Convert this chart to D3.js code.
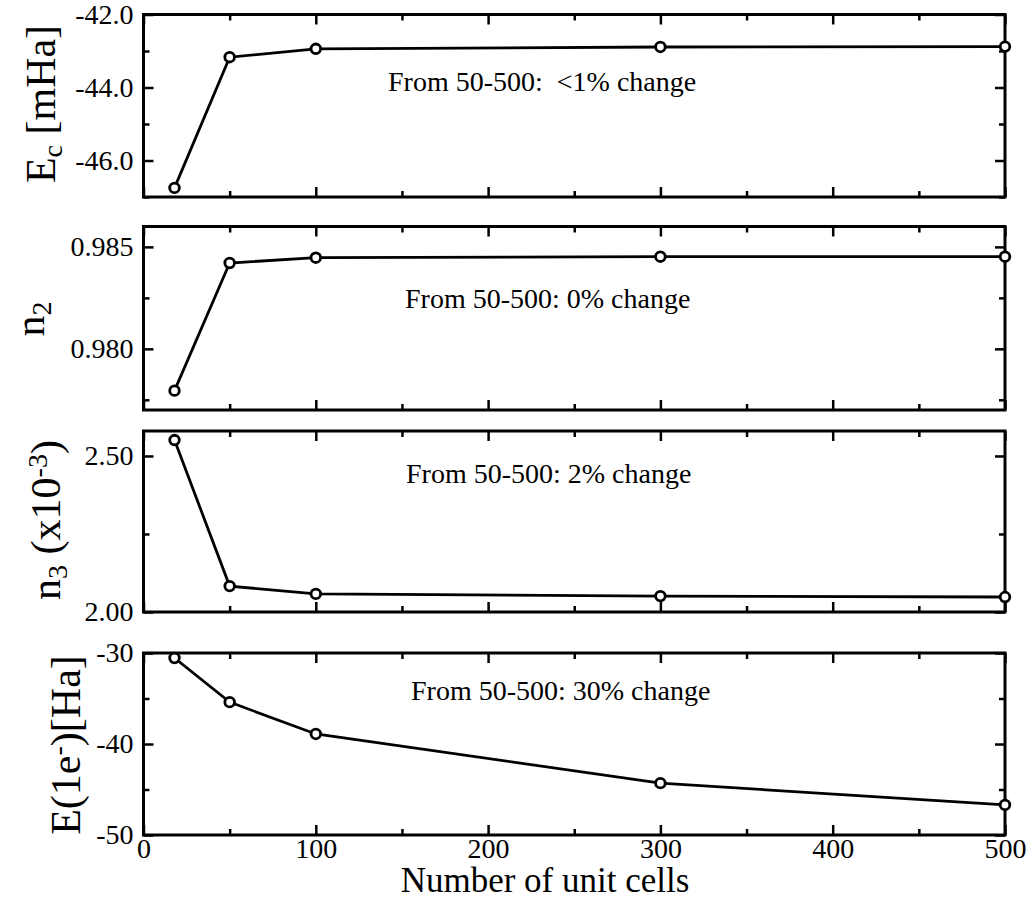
<!DOCTYPE html>
<html>
<head>
<meta charset="utf-8">
<script src="https://cdn.jsdelivr.net/npm/d3@7"></script>
<style>
  html, body { margin: 0; padding: 0; background: #fff; }
  svg { display: block; }
  svg text { font-family: 'Liberation Serif', 'Times New Roman', serif !important; white-space: pre; }
</style>
</head>
<body>
<svg id="chart" width="1033" height="915"></svg>
<script>
// ---- data ----
const unitCells = [18, 50, 100, 300, 500];
const ecValues = [-46.75, -43.17, -42.94, -42.89, -42.88];
const n2Values = [0.97795, 0.98421, 0.98447, 0.98452, 0.98452];
const n3Values = [2.551, 2.083, 2.058, 2.051, 2.048];
const e1Values = [-30.55, -35.4, -38.9, -44.3, -46.7];

const xTicks = [0, 100, 200, 300, 400, 500];
const xMinorTicks = [50, 150, 250, 350, 450];

const ecTicks = [-42, -44, -46];
const ecMinor = [-43, -45, -47];
const n2Ticks = [0.980, 0.985];
const n2Minor = [0.9775, 0.9825];
const n3Ticks = [2.00, 2.50];
const n3Minor = [2.25];
const e1Ticks = [-30, -40, -50];
const e1Minor = [-35, -45];

const annotations = [
  "From 50-500:  <1% change",
  "From 50-500: 0% change",
  "From 50-500: 2% change",
  "From 50-500: 30% change"
];

// ---- layout ----
const FONT = "'Liberation Serif', 'Times New Roman', serif";
const svg = d3.select("#chart");
const left = 143.5, right = 1005;
const x = d3.scaleLinear().domain([0, 500]).range([left, right]);

const hy = f => (v => f(v).replace("\u2212", "-"));

const panels = [
  { values: ecValues, top: 14.5, bottom: 197, domain: [-47, -42], ticks: ecTicks, minor: ecMinor, fmt: hy(d3.format(".1f")),
    note: annotations[0], noteX: 388, noteY: 91 },
  { values: n2Values, top: 226.5, bottom: 410, domain: [0.977, 0.986], ticks: n2Ticks, minor: n2Minor, fmt: hy(d3.format(".3f")),
    note: annotations[1], noteX: 405, noteY: 308 },
  { values: n3Values, top: 431, bottom: 612, domain: [2.0, 2.58], ticks: n3Ticks, minor: n3Minor, fmt: hy(d3.format(".2f")),
    note: annotations[2], noteX: 406, noteY: 483 },
  { values: e1Values, top: 653, bottom: 835, domain: [-50, -30], ticks: e1Ticks, minor: e1Minor, fmt: hy(d3.format("d")),
    note: annotations[3], noteX: 411, noteY: 700 }
];

const MAJ = 10, MIN = 6;

function styleAxis(g) {
  g.attr("font-family", FONT).attr("font-size", 28);
  g.select(".domain").remove();
  g.selectAll(".tick line").attr("stroke", "#000").attr("stroke-width", 2.5);
  g.selectAll(".tick text").attr("fill", "#000").attr("font-size", 28).attr("font-family", FONT);
}

panels.forEach((p, i) => {
  const y = d3.scaleLinear().domain(p.domain).range([p.bottom, p.top]);
  const g = svg.append("g");
  const isLast = i === panels.length - 1;

  // left axis
  g.append("g").attr("transform", `translate(${left},0)`)
    .call(d3.axisLeft(y).tickValues(p.ticks).tickFormat(p.fmt).tickSize(-MAJ).tickPadding(10))
    .call(styleAxis);
  g.append("g").attr("transform", `translate(${left},0)`)
    .call(d3.axisLeft(y).tickValues(p.minor).tickFormat("").tickSize(-MIN))
    .call(styleAxis);
  // right axis
  g.append("g").attr("transform", `translate(${right},0)`)
    .call(d3.axisRight(y).tickValues(p.ticks).tickFormat("").tickSize(-MAJ))
    .call(styleAxis);
  g.append("g").attr("transform", `translate(${right},0)`)
    .call(d3.axisRight(y).tickValues(p.minor).tickFormat("").tickSize(-MIN))
    .call(styleAxis);
  // top axis
  g.append("g").attr("transform", `translate(0,${p.top})`)
    .call(d3.axisTop(x).tickValues(xTicks).tickFormat("").tickSize(-MAJ))
    .call(styleAxis);
  g.append("g").attr("transform", `translate(0,${p.top})`)
    .call(d3.axisTop(x).tickValues(xMinorTicks).tickFormat("").tickSize(-MIN))
    .call(styleAxis);
  // bottom axis
  g.append("g").attr("transform", `translate(0,${p.bottom})`)
    .call(d3.axisBottom(x).tickValues(xTicks).tickFormat(isLast ? d3.format("d") : "").tickSize(-MAJ).tickPadding(3))
    .call(styleAxis);
  g.append("g").attr("transform", `translate(0,${p.bottom})`)
    .call(d3.axisBottom(x).tickValues(xMinorTicks).tickFormat("").tickSize(-MIN))
    .call(styleAxis);

  // frame
  g.append("rect")
    .attr("x", left).attr("y", p.top)
    .attr("width", right - left).attr("height", p.bottom - p.top)
    .attr("fill", "none").attr("stroke", "#000").attr("stroke-width", 3);

  // data line
  const pts = unitCells.map((u, k) => [u, p.values[k]]);
  g.append("path")
    .datum(pts)
    .attr("fill", "none").attr("stroke", "#000").attr("stroke-width", 2.8)
    .attr("d", d3.line().x(d => x(d[0])).y(d => y(d[1])));
  g.selectAll("circle.pt").data(pts).join("circle")
    .attr("class", "pt")
    .attr("cx", d => x(d[0])).attr("cy", d => y(d[1])).attr("r", 4.8)
    .attr("fill", "#fff").attr("stroke", "#000").attr("stroke-width", 2.8);

  // annotation
  g.append("text")
    .attr("x", p.noteX).attr("y", p.noteY)
    .attr("font-family", FONT).attr("font-size", 28).attr("fill", "#000")
    .text(p.note);
});

// ---- axis titles ----
svg.append("text")
  .attr("x", 545).attr("y", 892)
  .attr("text-anchor", "middle").attr("font-family", FONT).attr("font-size", 35).attr("fill", "#000")
  .text("Number of unit cells");

function yTitle(cx, cy, parts) {
  const t = svg.append("text")
    .attr("transform", `translate(${cx},${cy}) rotate(-90)`)
    .attr("text-anchor", "middle").attr("font-family", FONT).attr("font-size", 42).attr("fill", "#000");
  parts.forEach(pt => {
    const ts = t.append("tspan").text(pt.t);
    if (pt.sub) ts.attr("baseline-shift", "-25%").attr("font-size", 28);
    if (pt.sup) ts.attr("baseline-shift", "45%").attr("font-size", 28);
  });
  return t;
}

yTitle(55, 104, [{ t: "E" }, { t: "c", sub: true }, { t: " [mHa]" }]);
yTitle(44, 319, [{ t: "n" }, { t: "2", sub: true }]);
yTitle(60, 520, [{ t: "n" }, { t: "3", sub: true }, { t: " (x10" }, { t: "-3", sup: true }, { t: ")" }]);
yTitle(80, 745, [{ t: "E(1e" }, { t: "-", sup: true }, { t: ")[Ha]" }]);
</script>
</body>
</html>
